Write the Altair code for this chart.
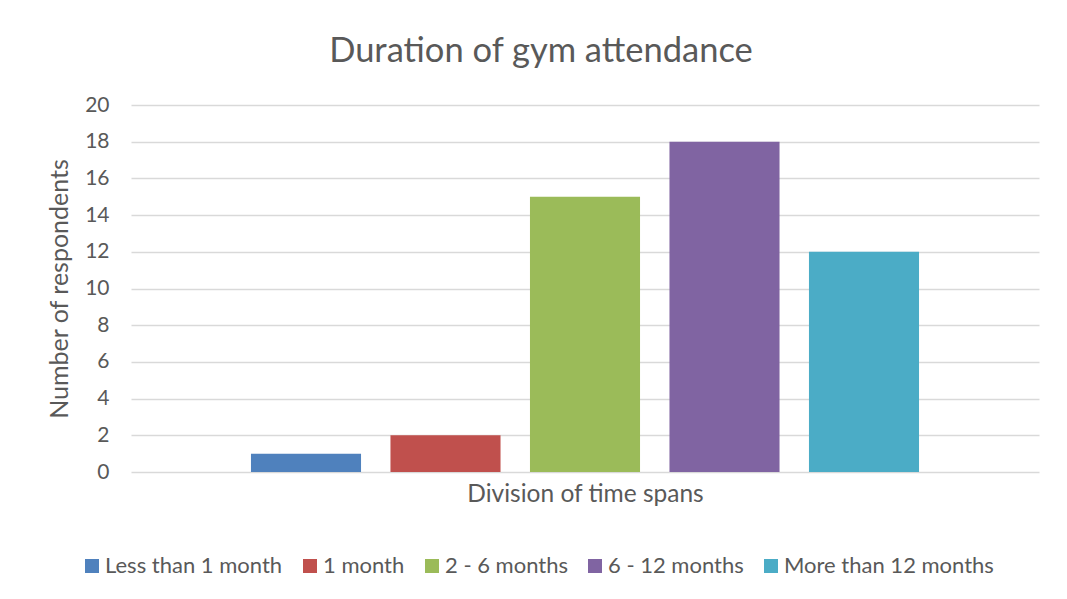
import altair as alt
import pandas as pd

categories = ["Less than 1 month", "1 month", "2 - 6 months", "6 - 12 months", "More than 12 months"]
values = [1, 2, 15, 18, 12]
colors = ["#4F81BD", "#C0504D", "#9BBB59", "#8064A2", "#4BACC6"]

df = pd.DataFrame({"category": categories, "value": values})

FONT = "Lato"
TXT = "#595959"

chart = alt.Chart(df).mark_bar().encode(
    x=alt.X("category:N", sort=categories,
            scale=alt.Scale(paddingInner=0.211, paddingOuter=0.86),
            axis=alt.Axis(title="Division of time spans", labels=False, ticks=False, domain=False,
                          titleFontSize=24.5, titleFont=FONT, titleColor=TXT, titleFontWeight="normal",
                          titlePadding=10)),
    y=alt.Y("value:Q", scale=alt.Scale(domain=[0, 20]),
            axis=alt.Axis(title="Number of respondents", values=list(range(0, 21, 2)),
                          ticks=False, domain=False, gridColor="#D9D9D9", gridWidth=1.3,
                          labelFontSize=21, labelFont=FONT, labelColor=TXT, labelPadding=22,
                          titleFontSize=25, titleFont=FONT, titleColor=TXT, titleFontWeight="normal",
                          titlePadding=12)),
    color=alt.Color("category:N", sort=categories,
                    scale=alt.Scale(domain=categories, range=colors),
                    legend=alt.Legend(title=None, orient="none", direction="horizontal",
                                      legendX=-50, legendY=450,
                                      symbolType="square", symbolSize=196, symbolStrokeWidth=0,
                                      labelFontSize=22, labelFont=FONT, labelColor=TXT, labelLimit=400,
                                      labelOffset=2, columnPadding=16)),
).properties(
    width=908, height=367,
    title=alt.TitleParams("Duration of gym attendance", fontSize=34.5, font=FONT, color=TXT,
                          fontWeight="normal", dx=-44, offset=25),
    autosize=alt.AutoSizeParams(type="none"),
    padding={"left": 123, "top": 97, "right": 20, "bottom": 119},
).configure_view(stroke=None)

chart.save("out.html", embed_options={"renderer": "svg", "actions": False})
